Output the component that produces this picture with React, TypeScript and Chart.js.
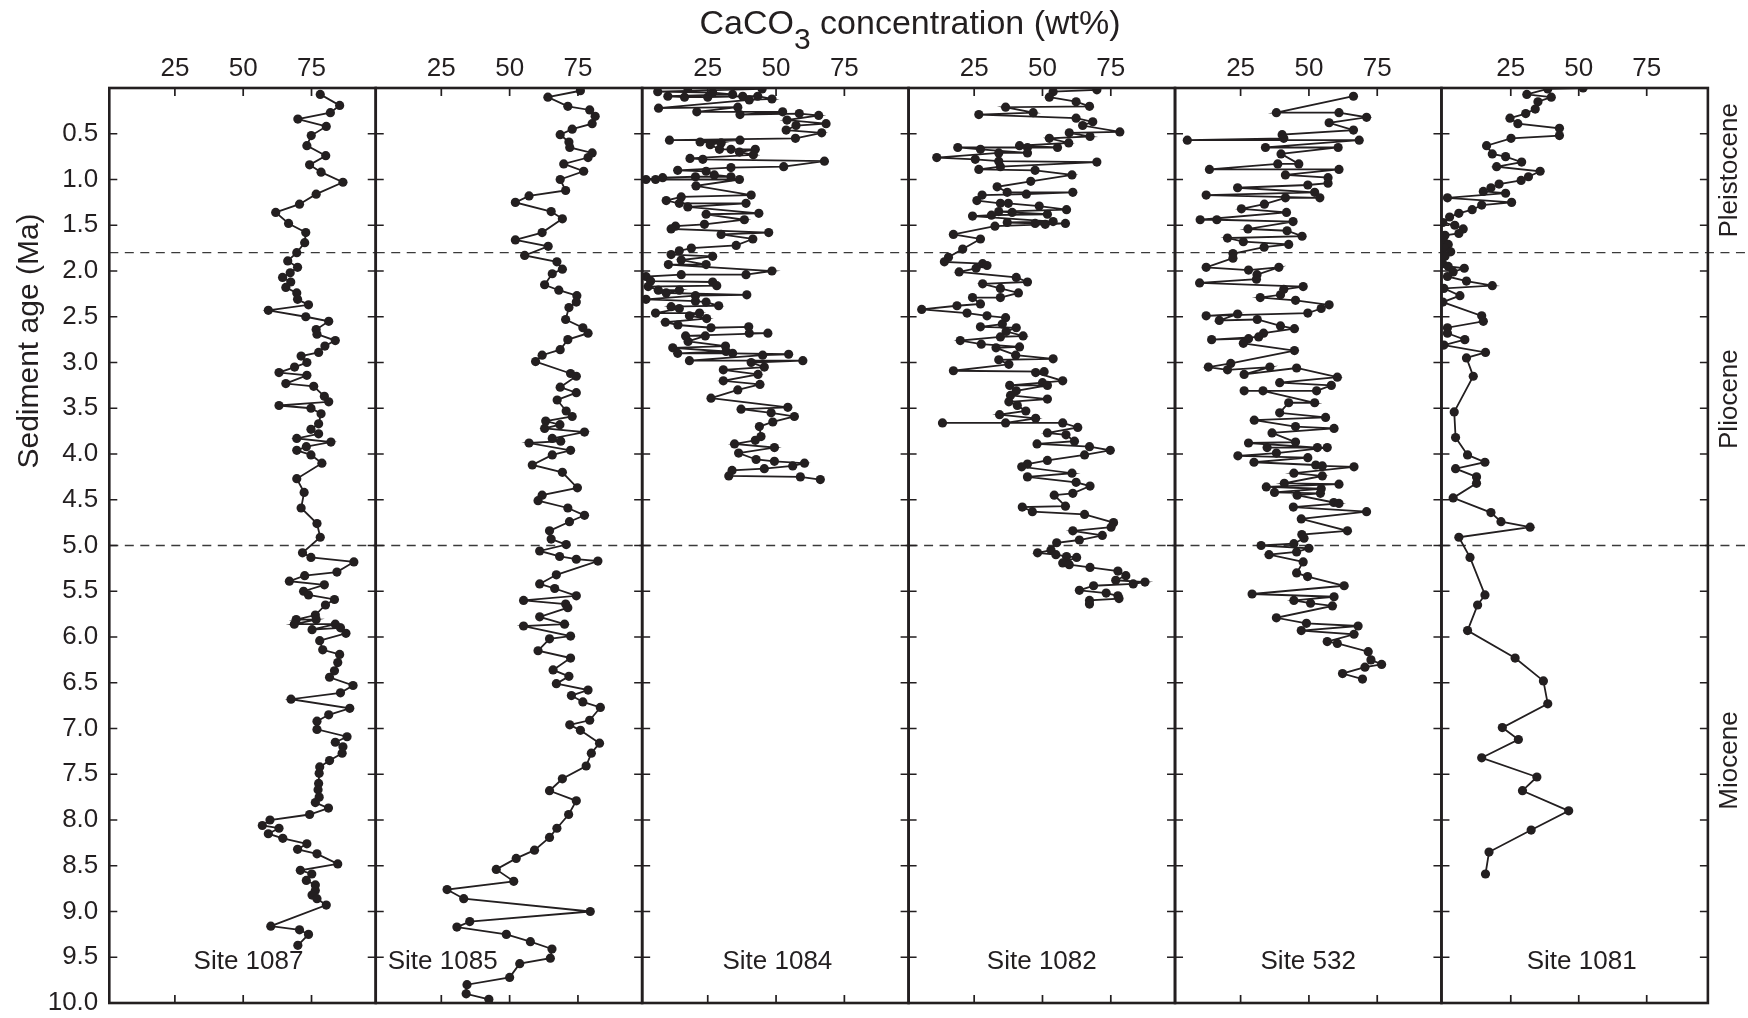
import React, { useEffect, useRef } from 'react';
import { Chart, registerables } from 'chart.js';

Chart.register(...registerables);

const W = 1748;
const H = 1018;
const INK = '#231f20';
const FONT = '"Liberation Sans", Arial, Helvetica, sans-serif';

const PLOT_LEFT = 109.3;
const PANEL_W = 266.43;
const PLOT_TOP = 88;
const PLOT_BOTTOM = 1003;

// ---------- data ----------
const siteNames = ['Site 1087', 'Site 1085', 'Site 1084', 'Site 1082', 'Site 532', 'Site 1081'];
const concTicks = [25, 50, 75];
const ageTicks = [0, 0.5, 1, 1.5, 2, 2.5, 3, 3.5, 4, 4.5, 5, 5.5, 6, 6.5, 7, 7.5, 8, 8.5, 9, 9.5, 10];
const epochBoundaries = [1.8, 5.0];
const epochNames = ['Pleistocene', 'Pliocene', 'Miocene'];
const epochMidAges = [0.9, 3.4, 7.35];
const concMin = [1, 1, 1, 1, 1, -0.5];
const concMax = [98.5, 98.5, 98.5, 98.5, 98.5, 97.5];

const site1087Age = [0.07,0.19,0.27,0.34,0.42,0.52,0.63,0.74,0.84,0.92,1.03,1.16,1.27,1.36,1.48,1.58,1.69,1.80,1.89,1.96,2.02,2.07,2.12,2.18,2.24,2.31,2.37,2.43,2.50,2.55,2.64,2.69,2.76,2.82,2.89,2.93,3.00,3.05,3.11,3.14,3.23,3.26,3.37,3.43,3.47,3.50,3.56,3.67,3.73,3.78,3.83,3.87,3.92,3.96,4.01,4.10,4.27,4.42,4.59,4.76,4.91,
  5.08,5.13,5.18,5.29,5.33,5.39,5.43,5.50,5.54,5.59,5.65,5.76,5.81,5.81,5.86,5.86,5.92,5.90,5.96,6.04,6.14,6.19,6.28,6.37,6.44,6.53,6.61,6.68,6.78,6.85,6.92,7.01,7.09,7.15,7.20,7.27,7.35,7.42,7.49,7.60,7.67,7.75,7.81,7.87,7.94,8.00,8.06,8.09,8.15,8.20,8.26,8.32,8.37,8.48,8.55,8.59,8.66,8.71,8.77,8.82,8.86,8.93,9.16,9.20,9.25,9.37];
const site1087CaCO3 = [78.2,85.3,81.9,70.0,80.4,74.9,73.3,80.2,74.3,78.5,86.5,76.7,70.6,61.9,66.6,72.9,72.5,69.6,66.3,69.9,67.2,64.4,67.4,65.6,69.6,69.9,73.9,59.2,72.9,81.3,76.7,77.0,83.7,79.9,77.6,71.2,73.3,68.8,63.1,73.3,65.6,75.8,79.7,81.3,63.1,74.8,78.5,77.6,74.8,77.6,69.6,82.1,73.1,69.6,74.8,78.8,69.6,72.3,71.2,77.0,78.2,
  71.7,74.8,90.5,84.3,72.5,66.9,79.7,72.1,73.9,83.4,80.1,76.4,69.4,76.7,68.7,83.7,75.2,85.6,87.6,78.0,79.1,85.3,84.6,83.4,81.6,90.2,85.6,67.5,89.0,81.3,77.0,77.0,88.0,83.7,86.5,86.2,81.6,78.0,77.8,77.6,77.4,77.8,76.4,81.2,74.3,59.8,57.0,63.1,59.2,64.5,73.3,69.9,77.0,84.6,70.9,75.1,73.1,76.4,76.4,75.2,77.0,80.4,60.1,70.6,73.9,70.0];

const site1085Age = [0.03,0.10,0.20,0.24,0.31,0.39,0.45,0.51,0.59,0.65,0.71,0.76,0.83,0.91,1.00,1.12,1.18,1.25,1.35,1.43,1.58,1.66,1.73,1.83,1.90,1.98,2.03,2.15,2.21,2.27,2.34,2.40,2.53,2.62,2.68,2.75,2.86,2.92,2.99,3.12,3.15,3.27,3.33,3.41,3.53,3.59,3.64,3.68,3.72,3.76,3.83,3.86,3.88,3.96,4.01,4.12,4.20,4.37,4.45,4.51,4.59,4.67,4.74,4.84,4.93,4.99,5.06,5.12,5.15,5.17,5.32,5.42,5.47,5.55,5.60,5.64,5.68,5.78,5.86,5.88,5.99,6.02,6.15,6.23,6.36,6.43,6.51,6.58,6.64,6.71,6.77,6.91,6.96,7.02,7.16,7.27,7.41,7.55,7.68,7.79,7.94,8.09,8.19,8.33,8.42,8.54,8.67,8.76,8.86,9.00,9.11,9.17,9.25,9.33,9.41,9.51,9.57,9.72,9.80,9.90,9.96,10.08];
const site1085CaCO3 = [75.9,64.0,71.3,79.3,81.3,80.2,72.9,68.5,71.7,72.0,80.2,78.7,69.8,77.1,68.5,70.5,57.1,52.1,65.2,69.3,61.9,52.1,64.1,55.5,67.3,69.3,65.6,62.8,68.0,74.6,74.4,71.7,70.5,76.8,78.7,71.3,68.5,61.9,59.5,72.3,74.4,68.5,74.4,67.4,70.7,72.9,63.2,68.4,62.8,77.4,65.6,68.7,57.1,72.3,65.6,58.3,69.3,74.8,61.9,60.4,71.3,77.4,71.9,64.6,65.2,70.7,61.0,68.3,74.4,82.3,67.1,61.0,66.5,74.4,55.1,70.5,71.3,61.0,70.1,55.1,72.3,64.6,60.4,72.3,65.9,71.7,67.1,78.7,72.6,76.8,83.2,79.3,72.0,75.9,82.9,79.9,78.0,69.3,64.6,74.4,71.6,67.3,64.6,59.1,52.4,45.1,51.5,27.1,33.2,79.5,35.4,30.7,48.8,57.6,65.5,64.9,53.7,50.0,34.4,34.1,42.4,47.0];

const site1084Age = [0.00,0.01,0.04,0.05,0.07,0.09,0.10,0.10,0.09,0.09,0.12,0.13,0.22,0.21,0.26,0.26,0.29,0.28,0.30,0.35,0.39,0.41,0.46,0.49,0.55,0.57,0.57,0.59,0.60,0.62,0.67,0.67,0.67,0.70,0.73,0.77,0.78,0.80,0.86,0.87,0.90,0.91,0.95,0.97,0.97,0.98,1.00,1.00,1.00,1.07,1.17,1.19,1.23,1.26,1.26,1.30,1.37,1.38,1.44,1.49,1.51,1.54,1.58,1.60,1.65,1.72,1.75,1.78,1.82,1.84,1.88,1.93,1.93,2.00,2.04,2.04,2.06,2.11,2.12,2.16,2.17,2.21,2.21,2.24,2.26,2.27,2.31,2.33,2.34,2.38,2.39,2.41,2.46,2.46,2.49,2.52,2.56,2.59,2.62,2.61,2.68,2.68,2.71,2.71,2.77,2.82,2.84,2.88,2.90,2.90,2.91,2.92,2.98,2.98,3.00,3.05,3.08,3.13,3.20,3.24,3.30,3.39,3.49,3.51,3.55,3.59,3.65,3.70,3.81,3.85,3.89,3.93,3.99,4.06,4.08,4.10,4.13,4.16,4.18,4.24,4.25,4.28];
const site1084CaCO3 = [17.7,44.9,6.7,26.8,34.1,10.4,16.5,25.0,37.8,43.3,48.5,40.2,7.0,36.0,21.0,52.4,36.8,58.5,65.6,54.0,68.3,57.3,53.7,66.7,57.1,11.0,36.8,22.2,29.9,25.9,29.3,33.5,42.4,36.6,41.7,18.5,23.2,67.7,52.8,33.5,14.0,24.4,27.4,33.5,20.5,8.5,2.4,5.9,36.6,20.7,40.9,15.3,9.8,14.6,39.0,17.7,43.7,24.4,38.4,23.8,13.2,11.6,47.3,29.9,41.5,35.4,19.0,14.6,11.6,26.8,15.3,24.4,10.6,48.5,39.0,15.3,2.4,4.1,26.8,28.3,3.2,6.9,14.6,9.8,39.3,20.5,2.4,20.5,24.4,29.0,11.6,14.6,5.9,22.0,18.3,24.6,9.5,14.1,26.2,40.0,40.2,47.0,16.9,24.1,17.8,31.5,12.2,31.7,14.0,34.1,54.6,45.1,18.3,59.8,40.9,45.7,30.7,43.4,30.7,44.1,36.0,26.2,54.3,37.2,48.2,56.7,48.8,43.9,44.5,42.4,34.8,49.4,36.3,42.7,49.4,60.4,56.1,45.7,33.9,32.7,58.9,66.2];

const site1082Age = [0.02,0.04,0.10,0.15,0.20,0.21,0.27,0.29,0.33,0.37,0.41,0.48,0.49,0.53,0.55,0.60,0.63,0.65,0.65,0.65,0.67,0.71,0.71,0.76,0.78,0.80,0.81,0.86,0.89,0.90,0.95,1.02,1.08,1.14,1.14,1.16,1.17,1.23,1.26,1.26,1.29,1.33,1.35,1.36,1.38,1.39,1.40,1.46,1.47,1.48,1.48,1.49,1.51,1.60,1.65,1.76,1.85,1.90,1.92,1.94,1.97,2.01,2.07,2.12,2.14,2.19,2.24,2.29,2.29,2.36,2.38,2.42,2.46,2.49,2.51,2.58,2.61,2.62,2.66,2.71,2.72,2.76,2.80,2.83,2.84,2.92,2.96,2.97,3.02,3.09,3.10,3.11,3.20,3.22,3.25,3.25,3.31,3.36,3.40,3.43,3.47,3.53,3.57,3.61,3.66,3.66,3.66,3.71,3.77,3.79,3.86,3.89,3.92,3.96,4.01,4.07,4.11,4.14,4.21,4.25,4.31,4.35,4.43,4.45,4.57,4.58,4.63,4.66,4.75,4.80,4.84,4.89,4.94,4.97,5.05,5.08,5.10,5.12,5.13,5.19,5.21,5.24,5.28,5.33,5.38,5.40,5.42,5.44,5.49,5.52,5.55,5.58,5.60,5.64];
const site1082CaCO3 = [69.9,53.9,52.5,62.3,67.2,36.5,46.6,26.7,62.3,68.4,64.7,78.3,59.8,67.4,52.5,59.6,41.6,55.5,44.5,19.0,27.3,44.5,34.0,11.3,25.4,34.0,69.9,34.6,26.7,47.3,60.8,45.7,33.4,37.1,61.1,44.1,27.9,26.0,34.6,37.5,48.8,58.8,34.0,38.9,51.8,31.3,24.4,53.9,37.1,47.3,58.4,51.0,32.6,17.4,27.3,20.8,15.6,14.1,28.1,29.7,25.7,19.5,40.4,44.5,28.1,34.6,41.2,34.6,24.4,27.3,18.7,5.8,22.4,29.7,36.5,35.3,27.3,40.4,36.7,42.9,34.6,19.9,27.6,41.6,33.0,40.2,53.9,34.0,37.7,17.4,50.6,47.5,57.4,50.0,38.0,51.8,40.4,38.3,51.8,37.7,40.8,43.9,34.3,47.5,36.5,13.4,57.4,62.9,51.8,58.6,61.7,48.0,67.2,74.8,65.4,51.8,44.5,42.4,60.8,44.5,62.3,67.4,61.1,54.3,58.4,42.6,46.3,65.4,76.0,75.1,61.1,71.9,63.5,55.2,53.1,48.2,54.9,58.8,62.5,57.4,59.8,67.4,77.6,80.5,76.8,87.5,83.2,68.7,63.5,73.3,77.6,78.0,67.2,67.2];

const site532Age = [0.09,0.27,0.27,0.32,0.38,0.46,0.51,0.55,0.57,0.57,0.65,0.65,0.72,0.83,0.83,0.89,0.89,0.95,0.98,1.04,1.06,1.09,1.14,1.17,1.20,1.20,1.27,1.32,1.36,1.44,1.44,1.46,1.54,1.56,1.62,1.64,1.68,1.71,1.74,1.81,1.86,1.96,1.99,1.96,2.04,2.09,2.13,2.17,2.20,2.26,2.29,2.32,2.37,2.41,2.46,2.49,2.47,2.54,2.53,2.60,2.63,2.68,2.72,2.75,2.74,2.79,2.87,3.01,3.05,3.08,3.05,3.13,3.06,3.16,3.22,3.25,3.31,3.31,3.31,3.44,3.44,3.55,3.60,3.63,3.70,3.72,3.77,3.87,3.88,3.93,3.93,3.93,3.99,4.02,4.04,4.09,4.12,4.13,4.14,4.21,4.24,4.32,4.33,4.36,4.38,4.42,4.43,4.45,4.53,4.54,4.58,4.63,4.71,4.84,4.88,4.92,4.98,5.00,5.03,5.07,5.10,5.18,5.30,5.34,5.44,5.53,5.56,5.60,5.63,5.66,5.79,5.85,5.88,5.93,5.97,6.05,6.07,6.16,6.25,6.30,6.33,6.40,6.46];
const site532CaCO3 = [66.3,38.1,61.0,71.1,57.4,66.3,40.2,40.8,5.5,68.4,34.1,60.7,39.8,46.3,38.6,13.6,61.0,41.4,57.0,57.0,49.6,23.9,52.1,12.4,54.0,41.4,33.7,25.3,41.8,10.2,16.3,44.2,27.7,42.0,47.5,20.2,26.0,42.6,33.6,22.2,22.2,12.4,27.9,39.0,31.0,30.8,10.0,47.9,40.8,39.6,32.2,45.1,57.4,54.5,49.6,12.4,23.9,17.2,31.1,39.6,44.7,33.4,31.6,14.4,27.9,26.0,44.7,21.4,13.2,20.2,35.7,26.3,45.5,60.4,39.3,58.2,52.8,26.3,33.2,52.1,42.6,39.3,56.1,30.0,45.1,59.2,36.5,45.1,27.9,53.1,34.7,56.7,38.1,24.0,49.6,29.9,52.5,54.9,66.5,44.5,54.9,41.0,61.0,34.4,54.5,37.4,54.2,45.7,59.1,61.0,44.3,71.1,47.2,64.1,47.4,48.2,44.5,32.5,50.0,45.5,35.4,47.9,45.5,49.5,62.9,29.2,59.2,44.5,50.6,58.6,38.1,49.1,68.0,47.2,66.5,56.7,60.4,71.7,72.7,76.6,70.5,62.3,69.6];

const site1081Age = [0.00,0.01,0.07,0.10,0.15,0.23,0.28,0.33,0.39,0.44,0.52,0.55,0.63,0.72,0.75,0.81,0.86,0.91,0.97,1.01,1.05,1.09,1.13,1.15,1.20,1.25,1.28,1.33,1.37,1.41,1.47,1.50,1.54,1.59,1.61,1.67,1.71,1.75,1.79,1.84,1.92,1.95,1.97,2.01,2.06,2.11,2.16,2.19,2.27,2.34,2.49,2.55,2.62,2.68,2.75,2.81,2.89,2.95,3.15,3.54,3.82,4.01,4.09,4.16,4.25,4.32,4.48,4.64,4.74,4.80,4.91,5.13,5.54,5.65,5.93,6.23,6.48,6.73,6.99,7.12,7.32,7.53,7.68,7.90,8.11,8.35,8.59];
const site1081CaCO3 = [51.6,38.6,30.9,39.9,35.0,34.0,30.5,24.7,27.6,42.9,42.9,25.1,16.1,18.2,23.1,29.0,19.8,35.8,31.5,28.8,20.7,17.7,14.9,23.1,1.7,25.3,14.3,10.8,5.9,2.5,0.0,4.4,7.5,5.9,0.8,0.2,2.0,0.4,2.9,0.8,0.0,2.0,7.9,3.8,1.7,8.7,18.2,0.4,6.3,0.0,14.3,14.9,1.7,1.7,8.1,0.4,15.7,8.7,11.2,4.2,4.7,9.1,15.5,4.7,12.4,12.4,3.8,17.7,21.4,32.1,5.9,10.0,15.5,12.8,9.1,26.6,37.0,38.6,21.9,27.8,14.3,34.6,29.3,46.3,32.5,17.0,15.7];

const siteAges = [site1087Age, site1085Age, site1084Age, site1082Age, site532Age, site1081Age];
const siteCaCO3 = [site1087CaCO3, site1085CaCO3, site1084CaCO3, site1082CaCO3, site532CaCO3, site1081CaCO3];

// label offsets (layout only)
const labelShift = [6, 0, 2, 0, 0, 7];

function makeDecor(idx: number) {
  return {
    id: 'panelDecor',
    beforeDatasetsDraw(chart: any) {
      const { ctx, chartArea: a } = chart;
      const ys = chart.scales.y;
      ctx.save();
      ctx.strokeStyle = '#3a3a3a';
      ctx.lineWidth = 1.3;
      ctx.setLineDash([9, 6.5]);
      epochBoundaries.forEach((age) => {
        const y = ys.getPixelForValue(age);
        ctx.beginPath();
        ctx.moveTo(a.left, y);
        ctx.lineTo(idx === 5 ? W : a.right, y);
        ctx.stroke();
      });
      ctx.restore();
    },
    afterDraw(chart: any) {
      const { ctx, chartArea: a } = chart;
      const xs = chart.scales.x;
      const ys = chart.scales.y;
      const TL = 8;
      ctx.save();
      ctx.strokeStyle = INK;
      ctx.lineWidth = 1.7;
      ctx.beginPath();
      xs.ticks.forEach((t: any) => {
        const x = xs.getPixelForValue(t.value);
        ctx.moveTo(x, a.top);
        ctx.lineTo(x, a.top + TL);
        ctx.moveTo(x, a.bottom);
        ctx.lineTo(x, a.bottom - TL);
      });
      ys.ticks.forEach((t: any) => {
        if (t.value <= 0 || t.value >= 10) return;
        const y = ys.getPixelForValue(t.value);
        ctx.moveTo(a.left, y);
        ctx.lineTo(a.left + TL, y);
        ctx.moveTo(a.right, y);
        ctx.lineTo(a.right - TL, y);
      });
      ctx.stroke();
      ctx.lineWidth = 2.6;
      ctx.strokeRect(a.left, a.top, a.right - a.left, a.bottom - a.top);

      // site label
      ctx.fillStyle = INK;
      ctx.font = `26px ${FONT}`;
      ctx.textBaseline = 'alphabetic';
      const yLab = ys.getPixelForValue(9.5) + 12;
      if (idx === 1) {
        ctx.textAlign = 'left';
        ctx.fillText(siteNames[idx], a.left + 12, yLab);
      } else {
        ctx.textAlign = 'center';
        ctx.fillText(siteNames[idx], (a.left + a.right) / 2 + labelShift[idx], yLab);
      }

      if (idx === 0) {
        // main title with subscript
        const p1 = 'CaCO';
        const p2 = '3';
        const p3 = ' concentration (wt%)';
        ctx.textAlign = 'left';
        ctx.font = `34px ${FONT}`;
        const w1 = ctx.measureText(p1).width;
        const w3 = ctx.measureText(p3).width;
        ctx.font = `30px ${FONT}`;
        const w2 = ctx.measureText(p2).width;
        const total = w1 + w2 + w3;
        const x0 = 910 - total / 2;
        const base = 34;
        ctx.font = `34px ${FONT}`;
        ctx.fillText(p1, x0, base);
        ctx.font = `30px ${FONT}`;
        ctx.fillText(p2, x0 + w1, base + 15);
        ctx.font = `34px ${FONT}`;
        ctx.fillText(p3, x0 + w1 + w2, base);

        // y axis title
        ctx.save();
        ctx.translate(38, 341);
        ctx.rotate(-Math.PI / 2);
        ctx.textAlign = 'center';
        ctx.font = `30px ${FONT}`;
        ctx.fillText('Sediment age (Ma)', 0, 0);
        ctx.restore();
      }

      if (idx === 5) {
        ctx.font = `26px ${FONT}`;
        ctx.textAlign = 'center';
        epochNames.forEach((name, i) => {
          const y = ys.getPixelForValue(epochMidAges[i]);
          ctx.save();
          ctx.translate(1737, y);
          ctx.rotate(-Math.PI / 2);
          ctx.fillText(name, 0, 0);
          ctx.restore();
        });
      }
      ctx.restore();
    },
  };
}

function Panel({ idx }: { idx: number }) {
  const ref = useRef<HTMLCanvasElement | null>(null);
  useEffect(() => {
    const canvas = ref.current;
    if (!canvas) return;
    const left = PLOT_LEFT + idx * PANEL_W;
    const right = left + PANEL_W;
    const points = siteAges[idx].map((age, i) => ({ x: siteCaCO3[idx][i], y: age }));
    const yAxisWidth = idx === 0 ? left : 0;
    const chart = new Chart(canvas, {
      type: 'scatter',
      data: {
        datasets: [
          {
            data: points,
            showLine: true,
            borderColor: INK,
            borderWidth: 1.8,
            pointRadius: 4.6,
            pointBackgroundColor: INK,
            pointBorderWidth: 0,
            tension: 0,
          } as any,
        ],
      },
      options: {
        responsive: false,
        animation: false,
        devicePixelRatio: 1,
        events: [],
        layout: {
          padding: { left: left - yAxisWidth, right: W - right, top: 0, bottom: H - PLOT_BOTTOM },
        },
        plugins: {
          legend: { display: false },
          tooltip: { enabled: false },
          title: { display: false },
        },
        scales: {
          x: {
            type: 'linear',
            position: 'top',
            min: concMin[idx],
            max: concMax[idx],
            grid: { display: false, drawTicks: false },
            border: { display: false },
            afterBuildTicks: (s: any) => {
              s.ticks = concTicks.map((v) => ({ value: v }));
            },
            afterFit: (s: any) => {
              s.height = PLOT_TOP;
            },
            ticks: {
              padding: 4,
              color: INK,
              autoSkip: false,
              maxRotation: 0,
              font: { size: 26, family: FONT, lineHeight: 1.2 },
              callback: (v: any) => String(v),
            },
          },
          y: {
            type: 'linear',
            reverse: true,
            min: 0,
            max: 10,
            grid: { display: false, drawTicks: false },
            border: { display: false },
            afterBuildTicks: (s: any) => {
              s.ticks = ageTicks.map((v) => ({ value: v }));
            },
            afterFit: (s: any) => {
              s.width = yAxisWidth;
            },
            ticks: {
              display: idx === 0,
              padding: 11,
              color: INK,
              autoSkip: false,
              font: { size: 26, family: FONT, lineHeight: 0.1 },
              callback: (v: any) => (Number(v) === 0 ? '' : Number(v).toFixed(1)),
            },
          },
        },
      } as any,
      plugins: [makeDecor(idx)],
    });
    return () => chart.destroy();
  }, [idx]);
  return (
    <canvas
      ref={ref}
      width={W}
      height={H}
      style={{ position: 'absolute', left: 0, top: 0, width: W, height: H }}
    />
  );
}

export default function App() {
  return (
    <div style={{ position: 'fixed', left: 0, top: 0, width: W, height: H, background: '#ffffff', overflow: 'hidden' }}>
      {siteNames.map((_, i) => (
        <Panel key={i} idx={i} />
      ))}
    </div>
  );
}
